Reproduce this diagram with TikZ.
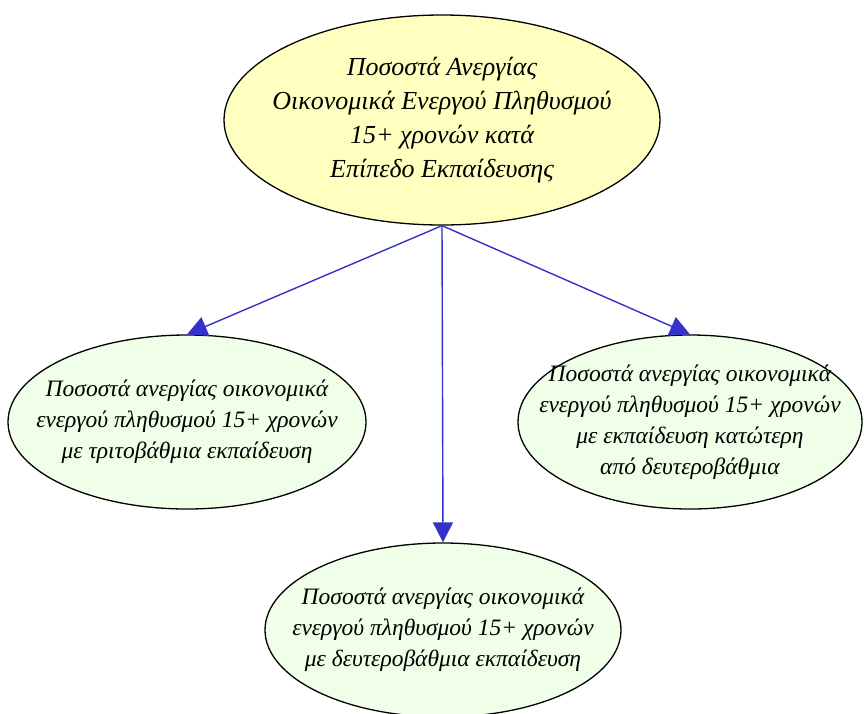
\documentclass[tikz,border=0pt]{standalone}
\usepackage{fontspec}
\setmainfont{Liberation Serif}
\usetikzlibrary{positioning,shapes.geometric,arrows.meta}

\begin{document}
\begin{tikzpicture}[x=1pt, y=-1pt,
          oval/.style={draw, ellipse, line width=1.3pt, inner xsep=-30pt, inner ysep=0pt, align=center,
                       font=\itshape\fontsize{23.5}{31}\selectfont},
          link/.style={-{Triangle[length=20pt,width=20pt]}, draw=arrowblue, line width=1.4pt}]
        \definecolor{arrowblue}{RGB}{51,51,204}
        \definecolor{topfill}{RGB}{255,255,192}
        \definecolor{leaffill}{RGB}{240,255,232}
        \useasboundingbox (0,0) rectangle (864,713);
        \node[oval, fill=topfill, minimum width=436pt, minimum height=210pt,
              font=\itshape\fontsize{26}{34}\selectfont] (rate) at (442,120)
          {Ποσοστά Ανεργίας\\Οικονομικά Ενεργού Πληθυσμού\\15+ χρονών κατά\\Επίπεδο Εκπαίδευσης};
        \node[oval, fill=leaffill, minimum width=358pt, minimum height=174pt] (tertiary) at (187,422)
          {Ποσοστά ανεργίας οικονομικά\\ενεργού πληθυσμού 15+ χρονών\\με τριτοβάθμια εκπαίδευση};
        \node[oval, fill=leaffill, minimum width=344pt, minimum height=174pt] (lower) at (690,422)
          {Ποσοστά ανεργίας οικονομικά\\ενεργού πληθυσμού 15+ χρονών\\με εκπαίδευση κατώτερη\\από δευτεροβάθμια};
        \node[oval, fill=leaffill, minimum width=356pt, minimum height=174pt] (secondary) at (443,630)
          {Ποσοστά ανεργίας οικονομικά\\ενεργού πληθυσμού 15+ χρονών\\με δευτεροβάθμια εκπαίδευση};
        \draw[link] (rate.south) -- (tertiary.north);
        \draw[link] (rate.south) -- (secondary.north);
        \draw[link] (rate.south) -- (lower.north);
      \end{tikzpicture}
\end{document}
